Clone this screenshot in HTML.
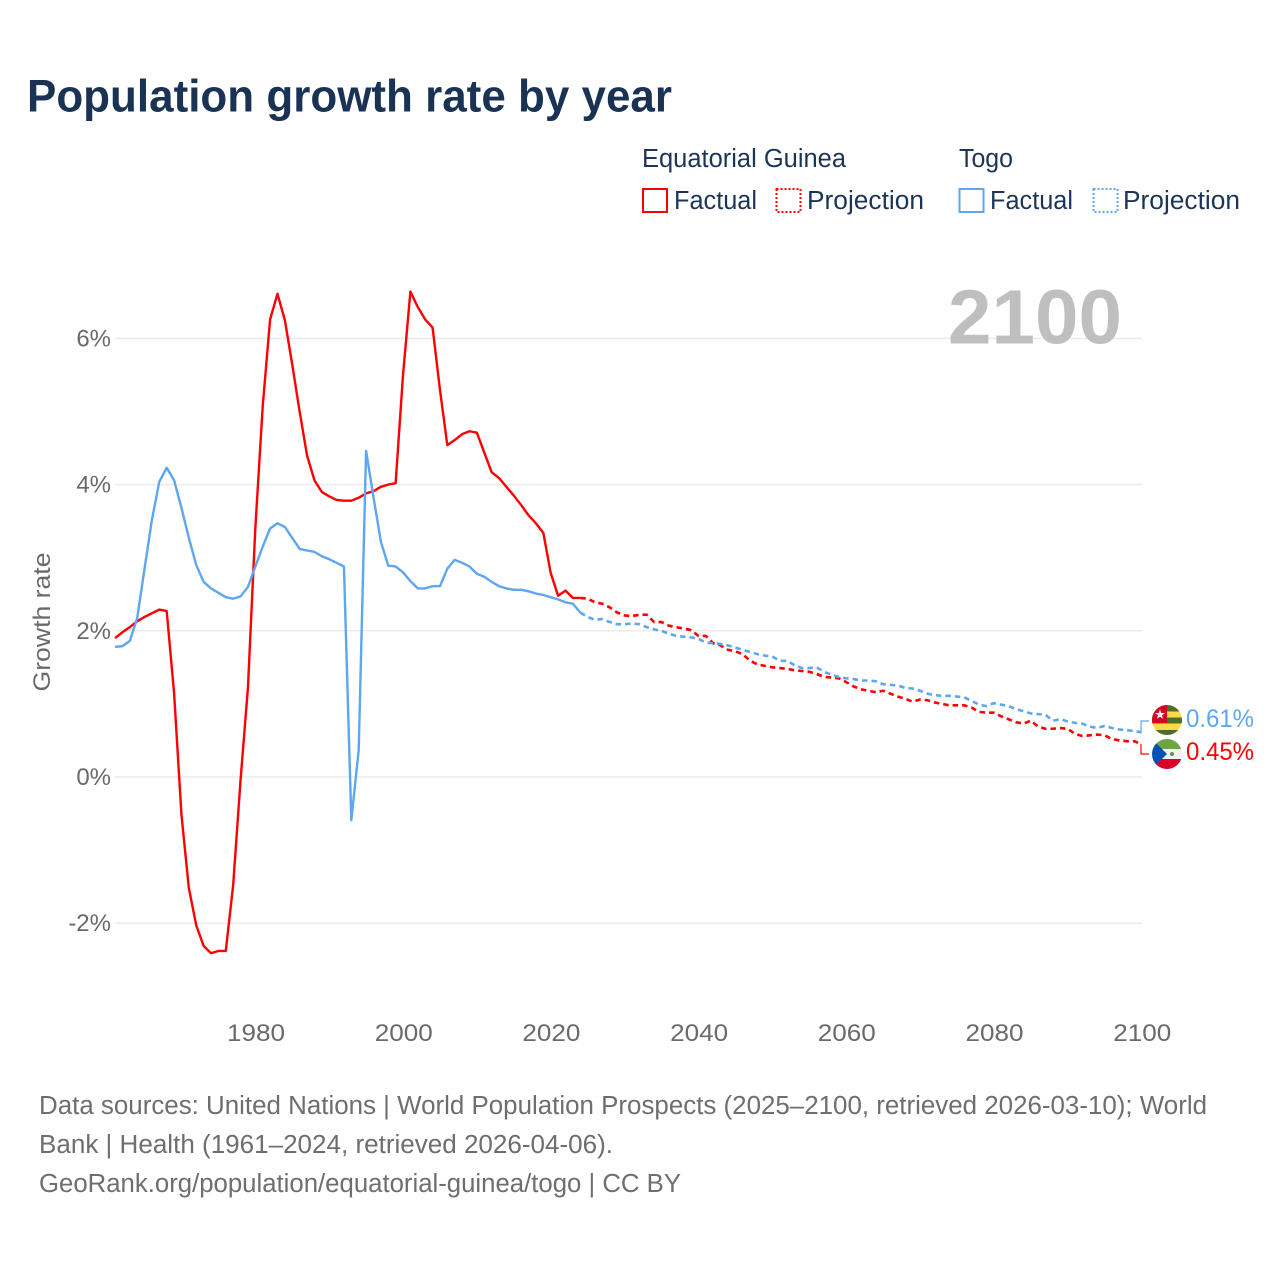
<!DOCTYPE html>
<html lang="en">
<head>
<meta charset="utf-8">
<title>Population growth rate by year</title>
<style>
  html, body { margin: 0; padding: 0; background: #fff; }
  svg { display: block; font-family: "Liberation Sans", sans-serif; }
  .legend-text { font-size: 25.5px; fill: #1c3557; }
  .foot { font-size: 25.5px; fill: #6e6e6e; }
  .tick { font-size: 24px; fill: #6a6a6a; }
</style>
</head>
<body>
<svg id="chart" xmlns="http://www.w3.org/2000/svg" width="1280" height="1280" viewBox="0 0 1280 1280">
  <rect x="0" y="0" width="1280" height="1280" fill="#fff"/>
  <text x="27" y="111.5" font-size="45.5" font-weight="700" fill="#1a3354" textLength="645" lengthAdjust="spacingAndGlyphs">Population growth rate by year</text>

  <g>
    <text class="legend-text" x="642" y="167" textLength="204" lengthAdjust="spacingAndGlyphs">Equatorial Guinea</text>
    <text class="legend-text" x="959" y="167" textLength="54" lengthAdjust="spacingAndGlyphs">Togo</text>
    <rect x="643" y="189" width="24" height="23" fill="none" stroke="#ff0000" stroke-width="2"/>
    <text class="legend-text" x="674" y="209" textLength="83" lengthAdjust="spacingAndGlyphs">Factual</text>
    <rect x="776.5" y="189" width="24" height="23" fill="none" stroke="#ff0000" stroke-width="2" stroke-dasharray="2 2"/>
    <text class="legend-text" x="807" y="209" textLength="117" lengthAdjust="spacingAndGlyphs">Projection</text>
    <rect x="959.5" y="189" width="24" height="23" fill="none" stroke="#5ea6f0" stroke-width="2"/>
    <text class="legend-text" x="990" y="209" textLength="83" lengthAdjust="spacingAndGlyphs">Factual</text>
    <rect x="1093.5" y="189" width="24" height="23" fill="none" stroke="#5ea6f0" stroke-width="2" stroke-dasharray="2 2"/>
    <text class="legend-text" x="1123" y="209" textLength="117" lengthAdjust="spacingAndGlyphs">Projection</text>
  </g>

  <g id="grid"></g>
  <text x="948" y="343.5" font-size="77" font-weight="700" fill="#bfbfbf" textLength="174" lengthAdjust="spacingAndGlyphs">2100</text>
  <g id="yTicksG"></g>
  <g id="xTicksG"></g>
  <text transform="translate(50,622) rotate(-90)" text-anchor="middle" font-size="24.5" fill="#6a6a6a" textLength="139" lengthAdjust="spacingAndGlyphs">Growth rate</text>
  <g id="series"></g>

  <g>
    <clipPath id="clipTogo"><circle cx="1167" cy="720" r="15"/></clipPath>
    <g clip-path="url(#clipTogo)">
      <rect x="1152" y="705" width="30" height="30" fill="#ffda44"/>
      <rect x="1152" y="705" width="30" height="6.5" fill="#496e2d"/>
      <rect x="1152" y="717.5" width="30" height="6" fill="#496e2d"/>
      <rect x="1152" y="730" width="30" height="5" fill="#496e2d"/>
      <rect x="1152" y="705" width="15" height="18" fill="#d80027"/>
      <polygon points="1160,709.5 1161.3,713 1165,713 1162,715.2 1163.1,718.8 1160,716.7 1156.9,718.8 1158,715.2 1155,713 1158.7,713" fill="#f0f0f0"/>
    </g>
  </g>
  <g>
    <clipPath id="clipEg"><circle cx="1167" cy="754" r="15"/></clipPath>
    <g clip-path="url(#clipEg)">
      <rect x="1152" y="739" width="30" height="10" fill="#6da544"/>
      <rect x="1152" y="749" width="30" height="10" fill="#f0f0f0"/>
      <rect x="1152" y="759" width="30" height="10" fill="#d80027"/>
      <polygon points="1152,739 1167,754 1152,769" fill="#0052b4"/>
      <circle cx="1172" cy="754" r="2" fill="#6d8a4d"/>
    </g>
  </g>
  <g id="endLabels"></g>

  <g>
    <text class="foot" x="39" y="1114" textLength="1168" lengthAdjust="spacingAndGlyphs">Data sources: United Nations | World Population Prospects (2025–2100, retrieved 2026-03-10); World</text>
    <text class="foot" x="39" y="1153" textLength="574" lengthAdjust="spacingAndGlyphs">Bank | Health (1961–2024, retrieved 2026-04-06).</text>
    <text class="foot" x="39" y="1192" textLength="642" lengthAdjust="spacingAndGlyphs">GeoRank.org/population/equatorial-guinea/togo | CC BY</text>
  </g>
</svg>
<script>
const xTickYears = [1980, 2000, 2020, 2040, 2060, 2080, 2100];
const yTickValues = [-2, 0, 2, 4, 6];
const factualStartYear = 1961;
const projectionStartYear = 2025;
const guineaFactual = [
  1.90,1.98,2.05,2.13,2.19,2.24,2.29,2.27,1.15,-0.52,
  -1.52,-2.03,-2.31,-2.41,-2.38,-2.38,-1.48,-0.04,1.22,3.40,
  5.07,6.26,6.61,6.25,5.64,5.00,4.40,4.06,3.90,3.84,
  3.79,3.78,3.78,3.82,3.88,3.91,3.97,4.00,4.02,5.50,
  6.64,6.43,6.26,6.15,5.30,4.54,4.61,4.69,4.73,4.71,
  4.44,4.17,4.09,3.97,3.85,3.72,3.58,3.47,3.34,2.79,
  2.48,2.55,2.45,2.45
];
const guineaProjection = [
  2.44,2.39,2.37,2.32,2.25,2.21,2.20,2.22,2.22,2.12,
  2.12,2.07,2.05,2.03,2.01,1.93,1.93,1.83,1.80,1.74,
  1.72,1.68,1.59,1.54,1.52,1.50,1.49,1.48,1.46,1.45,
  1.44,1.41,1.37,1.36,1.35,1.30,1.24,1.20,1.18,1.16,
  1.18,1.14,1.10,1.07,1.03,1.06,1.05,1.02,1.00,0.98,
  0.98,0.98,0.95,0.89,0.88,0.88,0.83,0.79,0.75,0.73,
  0.77,0.69,0.66,0.66,0.67,0.66,0.59,0.56,0.57,0.58,
  0.57,0.52,0.50,0.49,0.49,0.45
];
const togoFactual = [
  1.78,1.79,1.86,2.17,2.85,3.52,4.04,4.23,4.06,3.68,
  3.27,2.90,2.67,2.58,2.52,2.46,2.44,2.47,2.60,2.88,
  3.15,3.40,3.47,3.42,3.27,3.12,3.10,3.08,3.02,2.98,
  2.93,2.88,-0.59,0.37,4.46,3.83,3.22,2.89,2.88,2.80,
  2.68,2.58,2.58,2.61,2.61,2.85,2.97,2.93,2.88,2.78,
  2.74,2.67,2.61,2.58,2.56,2.56,2.54,2.51,2.49,2.46,
  2.43,2.39,2.37,2.25
];
const togoProjection = [
  2.19,2.15,2.16,2.12,2.09,2.09,2.10,2.09,2.05,2.02,
  2.00,1.96,1.93,1.92,1.91,1.89,1.84,1.83,1.82,1.80,
  1.77,1.74,1.71,1.68,1.66,1.65,1.59,1.59,1.53,1.49,
  1.49,1.50,1.44,1.40,1.37,1.35,1.34,1.32,1.32,1.31,
  1.27,1.26,1.25,1.22,1.21,1.18,1.14,1.12,1.11,1.11,
  1.10,1.09,1.04,0.99,0.97,1.01,0.99,0.97,0.93,0.90,
  0.87,0.86,0.85,0.77,0.79,0.76,0.74,0.73,0.69,0.67,
  0.70,0.67,0.65,0.64,0.63,0.61
];

const NS = 'http://www.w3.org/2000/svg';
const RED = '#ff0000';
const BLUE = '#5ea6f0';
function xScale(year) { return 115 + (year - 1961) * 7.385; }
function yScale(value) { return 777 - value * 73.1; }
function make(tag, attrs, parent) {
  const el = document.createElementNS(NS, tag);
  for (const k in attrs) el.setAttribute(k, attrs[k]);
  parent.appendChild(el);
  return el;
}
function pathFrom(values, startYear, prefix) {
  let d = prefix;
  values.forEach(function (v, i) {
    d += (d ? 'L' : 'M') + xScale(startYear + i).toFixed(2) + ' ' + yScale(v).toFixed(2);
  });
  return d;
}

const grid = document.getElementById('grid');
const yG = document.getElementById('yTicksG');
const xG = document.getElementById('xTicksG');
yTickValues.forEach(function (v) {
  const line = make('line', { x1: 115, x2: 1142, y1: yScale(v), y2: yScale(v), stroke: '#ebebeb', 'stroke-width': 1.5 }, grid);
  
  
  const t = make('text', { class: 'tick', x: 111, y: yScale(v) + 8, 'text-anchor': 'end' }, yG);
  
  
  t.textContent = v + '%';
});
xTickYears.forEach(function (year) {
  const t = make('text', { class: 'tick', x: xScale(year) + 0.7, y: 1041, 'text-anchor': 'middle', textLength: 58, lengthAdjust: 'spacingAndGlyphs' }, xG);
  
  
  t.textContent = year;
});

const series = document.getElementById('series');
function lastOf(arr) { return arr[arr.length - 1]; }
function drawProjection(values, factual, color) {
  const head = 'M' + xScale(projectionStartYear - 1).toFixed(2) + ' ' + yScale(lastOf(factual)).toFixed(2);
  return make('path', { d: pathFrom(values, projectionStartYear, head), fill: 'none', stroke: color, 'stroke-width': 2.6, 'stroke-dasharray': '5.5 4', 'stroke-linejoin': 'round' }, series);
}
function drawFactual(values, color) {
  return make('path', { d: pathFrom(values, factualStartYear, ''), fill: 'none', stroke: color, 'stroke-width': 2.4, 'stroke-linejoin': 'round' }, series);
}
const redFactualLine = drawFactual(guineaFactual, RED);


const redProjectionLine = drawProjection(guineaProjection, guineaFactual, RED);


const blueFactualLine = drawFactual(togoFactual, BLUE);


const blueProjectionLine = drawProjection(togoProjection, togoFactual, BLUE);



const endG = document.getElementById('endLabels');
const blueConnector = make('path', { d: 'M1141 ' + yScale(lastOf(togoProjection)) + 'L1141 721L1149 721', fill: 'none', stroke: BLUE, 'stroke-width': 1.2 }, endG);


const redConnector = make('path', { d: 'M1141 ' + yScale(lastOf(guineaProjection)) + 'L1141 754L1149 754', fill: 'none', stroke: RED, 'stroke-width': 1.2 }, endG);


const blueLabel = make('text', { x: 1186, y: 727, 'font-size': 25, fill: BLUE, textLength: 68, lengthAdjust: 'spacingAndGlyphs' }, endG);


blueLabel.textContent = lastOf(togoProjection).toFixed(2) + '%';
const redLabel = make('text', { x: 1186, y: 760, 'font-size': 25, fill: RED, textLength: 68, lengthAdjust: 'spacingAndGlyphs' }, endG);


redLabel.textContent = lastOf(guineaProjection).toFixed(2) + '%';
</script>
</body>
</html>
